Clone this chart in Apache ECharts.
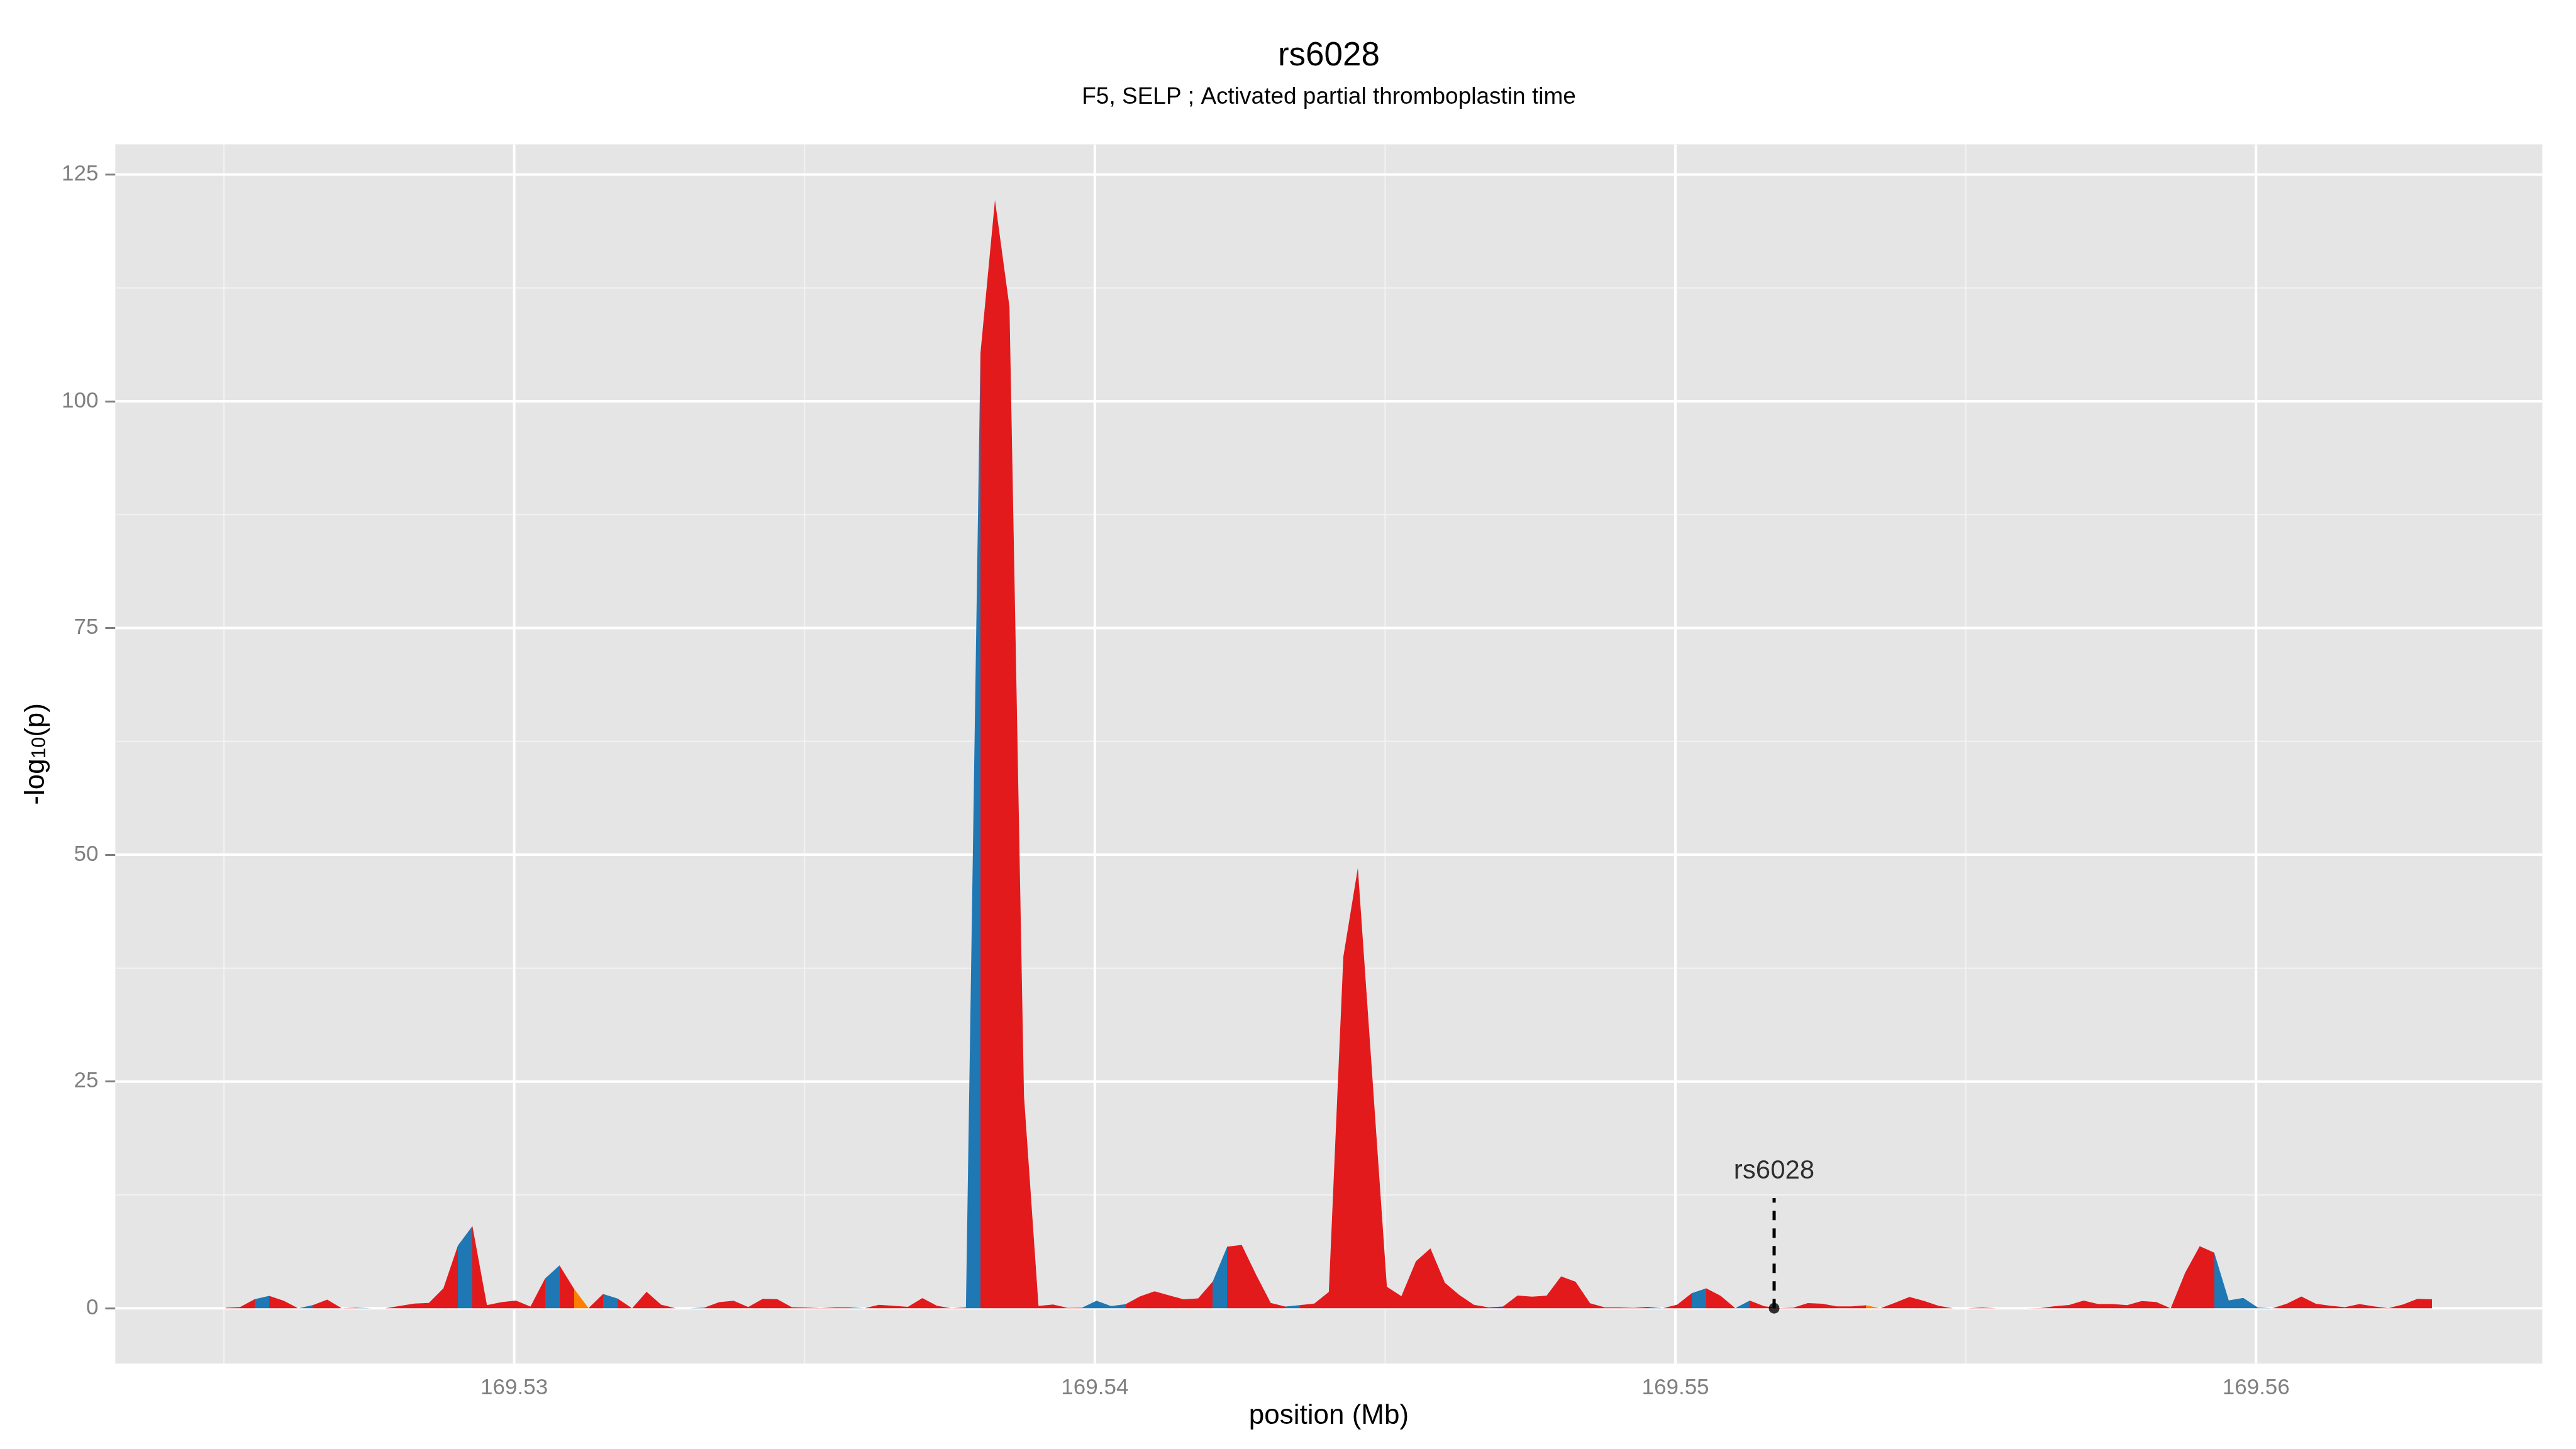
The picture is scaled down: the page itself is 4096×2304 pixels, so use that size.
<!DOCTYPE html>
<html>
<head>
<meta charset="utf-8">
<title>rs6028</title>
<script src="https://cdn.jsdelivr.net/npm/echarts@6.0.0/dist/echarts.min.js"></script>
<style>
  html, body { margin: 0; padding: 0; background: #ffffff; }
  #main { width: 4096px; height: 2304px; }
</style>
</head>
<body>
<div id="main"></div>
<script>
// marker positions (Mb)
const positions = [
  169.52503, 169.52528, 169.52553, 169.52578, 169.52603, 169.52628, 169.52653, 169.52678, 169.52703, 169.52728,
  169.52753, 169.52778, 169.52803, 169.52828, 169.52853, 169.52878, 169.52903, 169.52928, 169.52953, 169.52978,
  169.53003, 169.53028, 169.53053, 169.53078, 169.53103, 169.53128, 169.53153, 169.53178, 169.53203, 169.53228,
  169.53253, 169.53278, 169.53303, 169.53328, 169.53353, 169.53378, 169.53403, 169.53428, 169.53453, 169.53478,
  169.53503, 169.53528, 169.53553, 169.53578, 169.53603, 169.53628, 169.53653, 169.53678, 169.53703, 169.53728,
  169.53753, 169.53778, 169.53803, 169.53828, 169.53853, 169.53878, 169.53903, 169.53928, 169.53953, 169.53978,
  169.54003, 169.54028, 169.54053, 169.54078, 169.54103, 169.54128, 169.54153, 169.54178, 169.54203, 169.54228,
  169.54253, 169.54278, 169.54303, 169.54328, 169.54353, 169.54378, 169.54403, 169.54428, 169.54453, 169.54478,
  169.54503, 169.54528, 169.54553, 169.54578, 169.54603, 169.54628, 169.54653, 169.54678, 169.54703, 169.54728,
  169.54753, 169.54778, 169.54803, 169.54828, 169.54853, 169.54878, 169.54903, 169.54928, 169.54953, 169.54978,
  169.55003, 169.55028, 169.55053, 169.55078, 169.55103, 169.55128, 169.55153, 169.55178, 169.55203, 169.55228,
  169.55253, 169.55278, 169.55303, 169.55328, 169.55353, 169.55378, 169.55403, 169.55428, 169.55453, 169.55478,
  169.55503, 169.55528, 169.55553, 169.55578, 169.55603, 169.55628, 169.55653, 169.55678, 169.55703, 169.55728,
  169.55753, 169.55778, 169.55803, 169.55828, 169.55853, 169.55878, 169.55903, 169.55928, 169.55953, 169.55978,
  169.56003, 169.56028, 169.56053, 169.56078, 169.56103, 169.56128, 169.56153, 169.56178, 169.56203, 169.56228,
  169.56253, 169.56278, 169.56303
];

// -log10(p) at each marker
const logp = [
  0.06, 0.14, 1.0, 1.36, 0.83, 0.0, 0.34, 0.95, 0.0, 0.06,
  0.0, 0.0, 0.26, 0.51, 0.59, 2.2, 6.92, 9.07, 0.34, 0.67,
  0.85, 0.18, 3.27, 4.73, 2.15, 0.02, 1.58, 1.07, 0.0, 1.81,
  0.39, 0.0, 0.0, 0.08, 0.67, 0.83, 0.14, 1.03, 1.0, 0.12,
  0.08, 0.02, 0.1, 0.1, 0.0, 0.37, 0.28, 0.16, 1.12, 0.28,
  0.0, 0.1, 105.3, 122.2, 110.4, 23.4, 0.26, 0.41, 0.04, 0.06,
  0.83, 0.24, 0.45, 1.32, 1.87, 1.42, 0.99, 1.08, 2.94, 6.79,
  6.98, 3.67, 0.59, 0.18, 0.34, 0.52, 1.8, 38.75, 48.56, 25.5,
  2.37, 1.33, 5.18, 6.6, 2.8, 1.46, 0.37, 0.1, 0.18, 1.4,
  1.28, 1.38, 3.51, 2.92, 0.55, 0.1, 0.1, 0.04, 0.16, 0.0,
  0.39, 1.66, 2.19, 1.36, 0.02, 0.85, 0.22, 0.02, 0.06, 0.57,
  0.49, 0.2, 0.2, 0.32, 0.0, 0.61, 1.24, 0.81, 0.28, 0.0,
  0.0, 0.08, 0.0, 0.0, 0.0, 0.02, 0.22, 0.36, 0.85, 0.47,
  0.47, 0.34, 0.79, 0.69, 0.0, 3.93, 6.84, 6.13, 0.87, 1.14,
  0.08, 0.0, 0.49, 1.3, 0.49, 0.28, 0.12, 0.47, 0.2, 0.02,
  0.41, 1.03, 0.99
];

// LD class of the stretch from marker i to marker i+1
const segLd = [
  'r','r','b','r','r','b','r','r','r','b',
  'r','r','r','r','r','r','b','r','r','r',
  'r','r','b','r','o','r','b','r','r','r',
  'r','r','b','r','r','r','r','r','r','r',
  'r','r','r','b','r','r','r','r','r','r',
  'r','b','r','r','r','r','r','r','r','b',
  'b','b','r','r','r','r','r','r','b','r',
  'r','r','r','b','r','r','r','r','r','r',
  'r','r','r','r','r','r','r','p','r','r',
  'r','r','r','r','r','r','r','r','b','r',
  'r','b','r','r','b','r','r','r','r','r',
  'r','r','r','o','r','r','r','r','r','r',
  'r','r','r','r','r','r','r','r','r','r',
  'r','r','r','r','r','r','r','b','b','b',
  'b','r','r','r','r','r','r','r','r','r',
  'r','r'
];

const xMajor = [169.53, 169.54, 169.55, 169.56];
const xMinor = [169.525, 169.535, 169.545, 169.555];
const yMajor = [0, 25, 50, 75, 100, 125];
const yMinor = [12.5, 37.5, 62.5, 87.5, 112.5];

const leadSnp = 'rs6028';
const leadPos = 169.5517;
const leadLineTop = 12.15;
const leadLabelY = 15.1;

const X_MIN = 169.52313, X_MAX = 169.56493;
const Y_MIN = -6.11, Y_MAX = 128.33;
const FONT = "'Liberation Sans', Helvetica, Arial, sans-serif";
const ldColours = { r: '#E31A1C', b: '#1F78B4', o: '#FF7F00', p: '#6A3D9A' };

// merge neighbouring stretches of the same class into visualMap pieces
const pieces = [];
let start = 0;
for (let i = 1; i <= segLd.length; i++) {
  if (i === segLd.length || segLd[i] !== segLd[start]) {
    pieces.push({ gte: positions[start], lt: positions[i], color: ldColours[segLd[start]] });
    start = i;
  }
}

// grid lines: kind 0 = x minor, 1 = x major, 2 = y minor, 3 = y major
const gridItems = []
  .concat(xMinor.map(v => [v, 0]))
  .concat(yMinor.map(v => [v, 2]))
  .concat(xMajor.map(v => [v, 1]))
  .concat(yMajor.map(v => [v, 3]));

const myChart = echarts.init(document.getElementById('main'));

const option = {
  animation: false,
  backgroundColor: '#ffffff',
  textStyle: { fontFamily: FONT },
  graphic: [
    {
      type: 'text', x: 2113, y: 89, silent: true,
      style: { text: 'rs6028', fontSize: 53, fontFamily: FONT, fill: '#000', align: 'center', verticalAlign: 'middle' }
    },
    {
      type: 'text', x: 2113, y: 155, silent: true,
      style: { text: 'F5, SELP ; Activated partial thromboplastin time', fontSize: 37, fontFamily: FONT, fill: '#000', align: 'center', verticalAlign: 'middle' }
    }
  ],
  grid: {
    left: 183.4, right: 53.6, top: 229.5, bottom: 135.7,
    show: true, backgroundColor: '#E5E5E5', borderWidth: 0,
    containLabel: false, outerBoundsMode: 'none'
  },
  xAxis: {
    type: 'value', min: X_MIN, max: X_MAX,
    name: 'position (Mb)', nameLocation: 'middle', nameGap: 62,
    nameTextStyle: { fontSize: 44, color: '#000', fontFamily: FONT },
    axisLine: { show: false },
    axisTick: { show: true, length: 16, customValues: xMajor, lineStyle: { color: '#7F7F7F', width: 3 } },
    axisLabel: { show: true, margin: 22, fontSize: 35, color: '#7F7F7F', fontFamily: FONT, customValues: xMajor,
      formatter: v => v.toFixed(2) },
    splitLine: { show: false },
    minorSplitLine: { show: false }
  },
  yAxis: {
    type: 'value', min: Y_MIN, max: Y_MAX,
    name: '{a|-log}{s|10}{a|(p)}', nameLocation: 'middle', nameGap: 104, nameRotate: 90,
    nameTextStyle: {
      color: '#000', fontFamily: FONT,
      rich: {
        a: { fontSize: 44, color: '#000', fontFamily: FONT },
        s: { fontSize: 31, color: '#000', fontFamily: FONT, verticalAlign: 'bottom', padding: [0, 0, 0, 0] }
      }
    },
    axisLine: { show: false },
    axisTick: { show: true, length: 16, customValues: yMajor, lineStyle: { color: '#7F7F7F', width: 3 } },
    axisLabel: { show: true, margin: 27, fontSize: 35, color: '#7F7F7F', fontFamily: FONT, customValues: yMajor },
    splitLine: { show: false },
    minorSplitLine: { show: false }
  },
  visualMap: {
    type: 'piecewise', show: false, dimension: 0, seriesIndex: 1,
    pieces: pieces, outOfRange: { color: ldColours.r }
  },
  series: [
    {
      // panel grid lines, drawn under the area
      type: 'custom', z: 1, silent: true, clip: true,
      data: gridItems,
      renderItem: function (params, api) {
        const v = api.value(0), k = api.value(1);
        const vertical = k < 2;
        const p1 = vertical ? api.coord([v, Y_MIN]) : api.coord([X_MIN, v]);
        const p2 = vertical ? api.coord([v, Y_MAX]) : api.coord([X_MAX, v]);
        const major = k === 1 || k === 3;
        return {
          type: 'line',
          shape: { x1: p1[0], y1: p1[1], x2: p2[0], y2: p2[1] },
          style: { stroke: major ? '#FFFFFF' : '#F2F2F2', lineWidth: major ? 4 : 2 }
        };
      }
    },
    {
      name: '-log10(p)', type: 'line', z: 2, silent: true,
      data: positions.map((p, i) => [p, logp[i]]),
      showSymbol: false, symbol: 'none', smooth: false,
      lineStyle: { width: 0 },
      areaStyle: { opacity: 1 }
    },
    {
      // dashed pointer to the lead SNP
      type: 'line', z: 3, silent: true,
      data: [[leadPos, 0], [leadPos, leadLineTop]],
      showSymbol: false, symbol: 'none',
      lineStyle: { color: '#000', width: 5, type: [15, 13] }
    },
    {
      type: 'scatter', z: 4, silent: true,
      data: [[leadPos, 0]],
      symbol: 'circle', symbolSize: 17,
      itemStyle: { color: '#000' }
    },
    {
      type: 'scatter', z: 4, silent: true,
      data: [[leadPos, leadLabelY]],
      symbol: 'circle', symbolSize: 1,
      itemStyle: { color: 'rgba(0,0,0,0)' },
      label: { show: true, position: 'inside', formatter: leadSnp, fontSize: 42, color: '#000', fontFamily: FONT }
    }
  ]
};

myChart.setOption(option);
</script>
</body>
</html>
